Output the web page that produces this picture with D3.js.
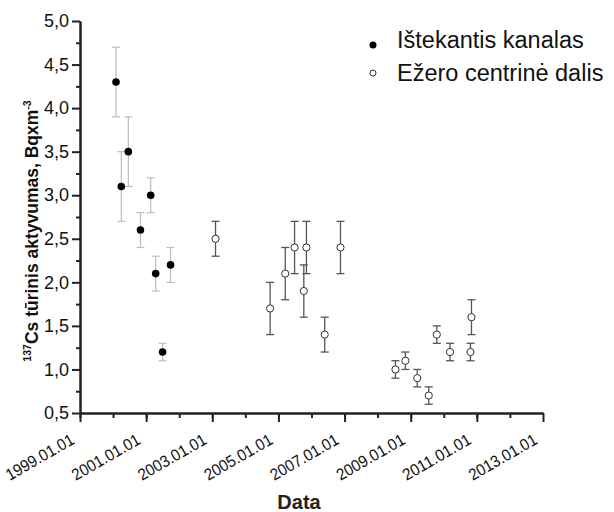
<!DOCTYPE html>
<html>
<head>
<meta charset="utf-8">
<script src="https://cdn.jsdelivr.net/npm/d3@7"></script>
<style>
    body { margin: 0; background: #fff; }
    svg { font-family: "Liberation Sans", Arial, sans-serif; }
</style>
</head>
<body>
<div id="chart"></div>
<script>
// Ištekantis kanalas (filled dots)
var kanalasDates = ["2000-02-03", "2000-04-01", "2000-06-18", "2000-10-30",
                    "2001-02-20", "2001-04-16", "2001-07-01", "2001-09-27"];
var kanalasValues = [4.3, 3.1, 3.5, 2.6, 3.0, 2.1, 1.2, 2.2];
var kanalasErrors = [0.4, 0.4, 0.4, 0.2, 0.2, 0.2, 0.1, 0.2];

// Ežero centrinė dalis (open circles)
var centrasDates = ["2003-02-06", "2004-10-01", "2005-03-17", "2005-06-28",
                    "2005-10-08", "2005-11-06", "2006-05-27", "2006-11-17",
                    "2008-07-16", "2008-11-03", "2009-03-14", "2009-07-19",
                    "2009-10-16", "2010-03-11", "2010-10-23", "2010-11-03"];
var centrasValues = [2.5, 1.7, 2.1, 2.4, 1.9, 2.4, 1.4, 2.4,
                     1.0, 1.1, 0.9, 0.7, 1.4, 1.2, 1.2, 1.6];
var centrasErrors = [0.2, 0.3, 0.3, 0.3, 0.3, 0.3, 0.2, 0.3,
                     0.1, 0.1, 0.1, 0.1, 0.1, 0.1, 0.1, 0.2];

var seriesNames = ["Ištekantis kanalas", "Ežero centrinė dalis"];
var yMajorTicks = [0.5, 1.0, 1.5, 2.0, 2.5, 3.0, 3.5, 4.0, 4.5, 5.0];
var xMajorTicks = ["1999.01.01", "2001.01.01", "2003.01.01", "2005.01.01",
                   "2007.01.01", "2009.01.01", "2011.01.01", "2013.01.01"];
var xDomain = ["1999-01-01", "2013-01-01"];

var width = 614, height = 512;
var parse = d3.timeParse("%Y-%m-%d");
var parseTick = d3.timeParse("%Y.%m.%d");

var svg = d3.select("#chart").append("svg")
    .attr("width", width)
    .attr("height", height);

var x = d3.scaleTime()
    .domain(xDomain.map(parse))
    .range([80, 543]);
var y = d3.scaleLinear()
    .domain([0.5, 5.0])
    .range([413, 21]);

function rows(dates, values, errors) {
    return dates.map(function(d, i) {
        return {date: parse(d), value: values[i], err: errors[i]};
    });
}
var kanalas = rows(kanalasDates, kanalasValues, kanalasErrors);
var centras = rows(centrasDates, centrasValues, centrasErrors);

var axisColor = "#222";

// x axis: minor ticks every year, labelled ticks every 2 years
var xMinor = svg.append("g")
    .attr("transform", "translate(0," + y(0.5) + ")")
    .call(d3.axisBottom(x).tickValues(d3.timeYear.range(x.domain()[0], x.domain()[1]))
        .tickSize(5).tickSizeOuter(0).tickFormat(""));
var xMajor = svg.append("g")
    .attr("transform", "translate(0," + y(0.5) + ")")
    .call(d3.axisBottom(x).tickValues(xMajorTicks.map(parseTick)).tickSize(9).tickSizeOuter(0)
        .tickFormat(d3.timeFormat("%Y.%m.%d")));
xMajor.selectAll("text")
    .attr("x", 0).attr("y", 0).attr("dy", 0)
    .attr("text-anchor", "end")
    .attr("transform", "translate(-5,30) rotate(-30)")
    .attr("font-size", 16.5)
    .attr("textLength", 76)
    .attr("lengthAdjust", "spacingAndGlyphs")
    .attr("fill", "#111");

// y axis
var yMinorTicks = d3.range(0.75, 5.0, 0.5);
var yMinor = svg.append("g")
    .attr("transform", "translate(" + x.range()[0] + ",0)")
    .call(d3.axisLeft(y).tickValues(yMinorTicks).tickSize(4).tickSizeOuter(0).tickFormat(""));
var yMajor = svg.append("g")
    .attr("transform", "translate(" + x.range()[0] + ",0)")
    .call(d3.axisLeft(y).tickValues(yMajorTicks).tickSize(8).tickSizeOuter(0)
        .tickFormat(function(d) { return d3.format(".1f")(d).replace(".", ","); }));
yMajor.selectAll("text")
    .attr("font-size", 18)
    .attr("fill", "#111");

svg.selectAll(".domain, .tick line")
    .attr("stroke", axisColor)
    .attr("stroke-width", 2);

// error bars
function errorBars(data, color, width) {
    var g = svg.append("g")
        .attr("stroke", color)
        .attr("stroke-width", width);
    var bar = g.selectAll("g").data(data).enter().append("g");
    bar.append("line")
        .attr("x1", function(d) { return x(d.date); })
        .attr("x2", function(d) { return x(d.date); })
        .attr("y1", function(d) { return y(d.value - d.err); })
        .attr("y2", function(d) { return y(d.value + d.err); });
    [-1, 1].forEach(function(s) {
        bar.append("line")
            .attr("x1", function(d) { return x(d.date) - 4; })
            .attr("x2", function(d) { return x(d.date) + 4; })
            .attr("y1", function(d) { return y(d.value + s * d.err); })
            .attr("y2", function(d) { return y(d.value + s * d.err); });
    });
}
errorBars(kanalas, "#bdbdbd", 1.2);
errorBars(centras, "#555", 1.3);

svg.append("g").selectAll("circle")
    .data(kanalas).enter().append("circle")
    .attr("cx", function(d) { return x(d.date); })
    .attr("cy", function(d) { return y(d.value); })
    .attr("r", 3.8)
    .attr("fill", "#000");

svg.append("g").selectAll("circle")
    .data(centras).enter().append("circle")
    .attr("cx", function(d) { return x(d.date); })
    .attr("cy", function(d) { return y(d.value); })
    .attr("r", 3.6)
    .attr("fill", "#fff")
    .attr("stroke", "#333")
    .attr("stroke-width", 1);

// legend
var legend = svg.append("g");
legend.append("circle")
    .attr("cx", 373).attr("cy", 45).attr("r", 3.5).attr("fill", "#000");
legend.append("circle")
    .attr("cx", 373).attr("cy", 73).attr("r", 3).attr("fill", "#fff")
    .attr("stroke", "#333").attr("stroke-width", 1);
legend.selectAll("text")
    .data(seriesNames).enter().append("text")
    .attr("x", 397)
    .attr("y", function(d, i) { return 48 + i * 33; })
    .attr("font-size", 23.5)
    .attr("fill", "#111")
    .text(function(d) { return d; });

// axis titles
svg.append("text")
    .attr("x", 299).attr("y", 509)
    .attr("text-anchor", "middle")
    .attr("font-size", 20)
    .attr("font-weight", "bold")
    .attr("fill", "#222")
    .text("Data");

var yTitle = svg.append("text")
    .attr("transform", "translate(38,231) rotate(-90)")
    .attr("text-anchor", "middle")
    .attr("font-size", 17.5)
    .attr("font-weight", "bold")
    .attr("fill", "#111");
yTitle.append("tspan").attr("font-size", 10.5).attr("dy", -7).text("137");
yTitle.append("tspan").attr("dy", 7).text("Cs tūrinis aktyvumas, Bqxm");
yTitle.append("tspan").attr("font-size", 10.5).attr("dy", -7).text("-3");
</script>
</body>
</html>
